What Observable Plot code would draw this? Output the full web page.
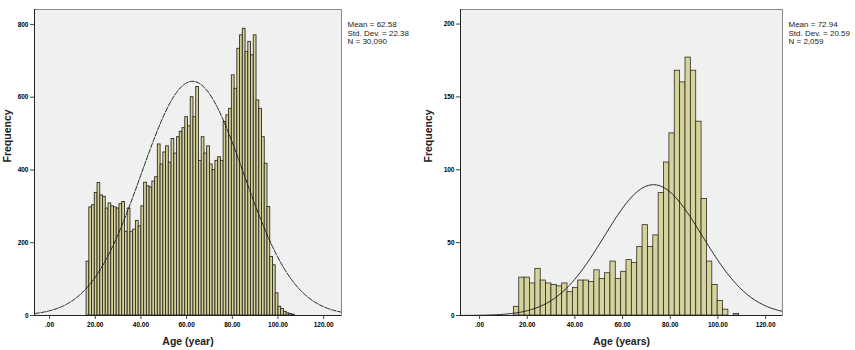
<!DOCTYPE html>
<html><head><meta charset="utf-8">
<script src="https://cdn.jsdelivr.net/npm/d3@7"></script>
<script src="https://cdn.jsdelivr.net/npm/@observablehq/plot@0.6"></script>
<style>
body{margin:0;background:#fff;font-family:"Liberation Sans",Arial,sans-serif}
#wrap{display:flex;width:855px;height:350px;overflow:hidden}
#wrap svg{display:block;flex:none}
</style></head><body><div id="wrap"></div>
<script>
// ---- data ----
const xTicks = [0, 20, 40, 60, 80, 100, 120];
const leftYTicks = [0, 200, 400, 600, 800];
const rightYTicks = [0, 50, 100, 150, 200];

// left histogram: Age (year), bins of 1.2 years starting at 16.2
const leftBinStart = 16.2;
const leftBinWidth = 1.2;
const leftCounts = [148, 297, 303, 337, 364, 330, 326, 294, 308, 300,
  297, 294, 306, 312, 230, 294, 230, 236, 260, 245,
  300, 365, 355, 352, 368, 380, 470, 415, 448, 465,
  420, 485, 445, 490, 505, 515, 545, 520, 600, 545,
  628, 425, 490, 445, 465, 415, 400, 425, 435, 425,
  532, 550, 568, 660, 623, 733, 770, 788, 724, 752,
  715, 770, 591, 568, 490, 417, 298, 161, 138, 61,
  24, 18, 10, 6, 4, 2];
const leftStats = ["Mean = 62.58", "Std. Dev. = 22.38", "N = 30,090"];
const leftMean = 62.58, leftSd = 22.38, leftN = 30090;

// right histogram: Age (years), bins of 2.25 years starting at 14.4
const rightBinStart = 14.4;
const rightBinWidth = 2.25;
const rightCounts = [6, 26, 26, 22, 32, 24, 22, 21, 20, 22,
  16, 19, 24, 24, 23, 31, 25, 29, 37, 25,
  30, 38, 36, 47, 62, 47, 55, 84, 105, 125,
  168, 160, 177, 168, 133, 80, 37, 21, 10, 4,
  0, 1];
const rightStats = ["Mean = 72.94", "Std. Dev. = 20.59", "N = 2,059"];
const rightMean = 72.94, rightSd = 20.59, rightN = 2059;

function fmtX(d) { return d === 0 ? ".00" : d.toFixed(2); }

function chart(cfg) {
  const table = cfg.counts.map((c, i) => ({
    x1: cfg.start + i * cfg.width,
    x2: cfg.start + (i + 1) * cfg.width,
    y: c
  }));
  const [a, b] = cfg.xDomain;
  const curve = d3.range(0, 241).map(k => {
    const x = a + (b - a) * k / 240;
    const z = (x - cfg.mean) / cfg.sd;
    return {x, y: cfg.n * cfg.width / (cfg.sd * Math.sqrt(2 * Math.PI)) * Math.exp(-0.5 * z * z)};
  });
  return Plot.plot({
    width: cfg.svgWidth,
    height: 350,
    marginLeft: cfg.ml,
    marginRight: cfg.mr,
    marginTop: 9,
    marginBottom: 35,
    style: {fontFamily: "'Liberation Sans', Arial, sans-serif", background: "#fff", overflow: "visible"},
    x: {domain: cfg.xDomain},
    y: {domain: cfg.yDomain},
    marks: [
      Plot.frame({fill: "#f0f0f0", stroke: null}),
      Plot.rectY(table, {x1: "x1", x2: "x2", y: "y", fill: "#d6d29c", stroke: "#2e2d22", strokeWidth: cfg.barStroke}),
      Plot.line(curve, {x: "x", y: "y", stroke: "#111", strokeWidth: 0.9, strokeDasharray: cfg.dash, clip: true}),
      Plot.frame({stroke: "#8a8a8a", strokeWidth: 1}),
      Plot.ruleY([0], {stroke: "#222", strokeWidth: 1}),
      Plot.ruleX([cfg.xDomain[0]], {stroke: "#222", strokeWidth: 1}),
      Plot.axisX({ticks: xTicks, tickFormat: fmtX, tickSize: 4, tickPadding: 3, fontSize: 6.5, fontWeight: "bold", label: null, stroke: "#444"}),
      Plot.axisY({ticks: cfg.yTicks, tickFormat: d => String(d), tickSize: 4, tickPadding: 2, fontSize: 6.5, fontWeight: "bold", label: null, stroke: "#444"}),
      Plot.text([cfg.xLabel], {frameAnchor: "bottom", dy: 29, fontSize: 10.5, fontWeight: "bold", fill: "#222"}),
      Plot.text(["Frequency"], {frameAnchor: "left", dx: -cfg.ml + cfg.yLabelX, rotate: -90, fontSize: 10.5, fontWeight: "bold", fill: "#222"}),
      Plot.text([cfg.stats.join("\n")], {frameAnchor: "top-right", dx: 6, dy: 12, textAnchor: "start", lineAnchor: "top", lineHeight: 1.05, fontSize: 8, fill: "#222"})
    ]
  });
}

const wrap = document.getElementById("wrap");
wrap.appendChild(chart({
  svgWidth: 424, ml: 34, mr: 83,
  xDomain: [-6.6, 127.8], yDomain: [0, 841], yTicks: leftYTicks,
  counts: leftCounts, start: leftBinStart, width: leftBinWidth,
  mean: leftMean, sd: leftSd, n: leftN, stats: leftStats,
  xLabel: "Age (year)", dash: "5,1.5", barStroke: 0.9, yLabelX: 7
}));
wrap.appendChild(chart({
  svgWidth: 431, ml: 36, mr: 73,
  xDomain: [-8, 127.1], yDomain: [0, 210], yTicks: rightYTicks,
  counts: rightCounts, start: rightBinStart, width: rightBinWidth,
  mean: rightMean, sd: rightSd, n: rightN, stats: rightStats,
  xLabel: "Age (years)", dash: null, barStroke: 0.8, yLabelX: 4
}));
</script></body></html>
